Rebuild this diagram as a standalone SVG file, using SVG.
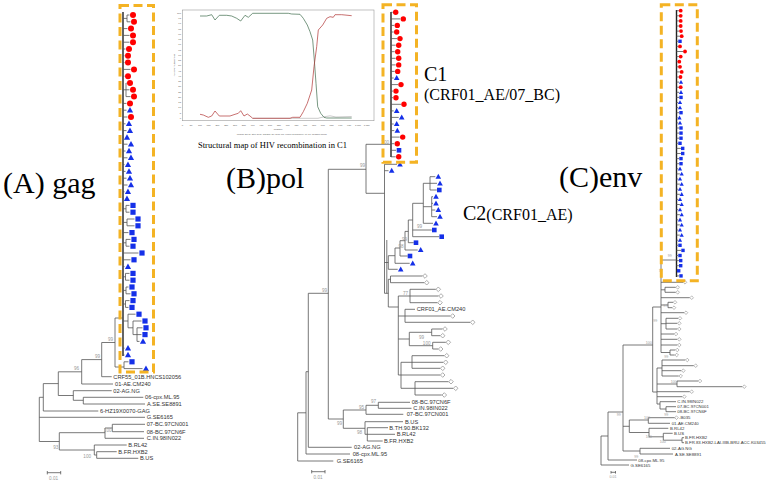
<svg xmlns="http://www.w3.org/2000/svg" width="767" height="482" viewBox="0 0 767 482">
<style>
.br{fill:none;stroke:#555;stroke-width:0.8}
.bb{fill:none;stroke:#222;stroke-width:1.4}
.lb{font-family:"Liberation Sans",Arial,sans-serif;font-size:5.7px;fill:#333}
.lc{font-family:"Liberation Sans",Arial,sans-serif;font-size:4.3px;fill:#333}
.bs{font-family:"Liberation Sans",Arial,sans-serif;font-size:4.6px;fill:#999;text-anchor:end}
.bsc{font-family:"Liberation Sans",Arial,sans-serif;font-size:3.6px;fill:#999;text-anchor:end}
.big{font-family:"Liberation Serif","Times New Roman",serif;fill:#000}
.box{fill:none;stroke:#F4B324;stroke-width:3;stroke-dasharray:9 4.5}
.tk{font-family:"Liberation Sans",Arial,sans-serif;font-size:2.4px;fill:#555}
</style>
<defs>
<circle id="ca" r="3" fill="#f00"/>
<path id="ta" d="M0,-3.2L3.1,2.3L-3.1,2.3Z" fill="#1530e8"/>
<rect id="sa" x="-2.6" y="-2.6" width="5.2" height="5.2" fill="#1530e8"/>
<circle id="cb" r="2.7" fill="#f00"/>
<path id="tb" d="M0,-2.9L2.8,2.1L-2.8,2.1Z" fill="#1530e8"/>
<rect id="sb" x="-2.3" y="-2.3" width="4.6" height="4.6" fill="#1530e8"/>
<path id="db" d="M0,-2.3L2.3,0L0,2.3L-2.3,0Z" fill="#fff" stroke="#777" stroke-width="0.6"/>
<circle id="cc" r="1.9" fill="#f00"/>
<path id="tc" d="M0,-2.2L2.1,1.6L-2.1,1.6Z" fill="#1530e8"/>
<rect id="sc" x="-1.7" y="-1.7" width="3.4" height="3.4" fill="#1530e8"/>
<path id="dc" d="M0,-1.8L1.8,0L0,1.8L-1.8,0Z" fill="#fff" stroke="#777" stroke-width="0.5"/>
</defs>
<rect width="767" height="482" fill="#fff"/>

<!-- Titles -->
<g id="title-a"><text class="big" x="3" y="192.5" font-size="30">(A) gag</text></g>
<g id="title-b"><text class="big" x="226" y="188.3" font-size="30">(B)pol</text></g>
<g id="title-c"><text class="big" x="559" y="186.5" font-size="30">(C)env</text></g>
<g id="label-c1"><text class="big" x="424" y="81" font-size="20">C1</text><text class="big" x="424" y="100" font-size="16">(CRF01_AE/07_BC)</text></g>
<g id="label-c2"><text class="big" x="463" y="220" font-size="20">C2<tspan font-size="16">(CRF01_AE)</tspan></text></g>

<!-- Inset plot -->
<g id="inset">
<rect x="182.5" y="10" width="191.5" height="110.7" fill="#fff" stroke="#999" stroke-width="0.6"/>
<polyline fill="none" stroke="#aaa" stroke-width="0.6" points="252.7,118.3 318,118.3 324,116.8 330,115.8 336,117 351.7,116.5"/>
<polyline fill="none" stroke="#3d6b4c" stroke-width="0.7" points="200,16 206.7,16 211.7,14.7 215,20 219.3,15.3 226.7,15.3 231.7,16 236.7,18.3 240.7,21 245,15.3 248.3,17.3 252.7,13.3 288.3,13.3 291.7,14 300,14.3 303.3,18.3 307.3,25 310,31.7 312.7,40 314.3,60 316,83.3 317.7,106.7 320.7,113.3 324,117.3 326.7,118 351.7,118"/>
<polyline fill="none" stroke="#b03434" stroke-width="0.7" points="200,114.3 203.3,115 208.3,117.3 211.7,116 215,111 219.3,116 230,116 235,114.3 238.3,113.3 240.7,110.7 244,116 247.3,114 250,116 252.7,118.3 290,118.3 292.7,117.3 300,117.3 303.3,111.7 307.3,103.3 311.7,90 314,66.7 316.7,46.7 318.3,30 322.7,25 326.7,18.3 330,16.7 333.3,17.3 335,14.7 341.7,14.7 351.7,15.7"/>
<text class="tk" text-anchor="end"><tspan x="181" y="118.8">0</tspan><tspan x="181" y="113.5">5</tspan><tspan x="181" y="108.3">10</tspan><tspan x="181" y="103">15</tspan><tspan x="181" y="97.8">20</tspan><tspan x="181" y="92.5">25</tspan><tspan x="181" y="87.3">30</tspan><tspan x="181" y="82">35</tspan><tspan x="181" y="76.8">40</tspan><tspan x="181" y="71.5">45</tspan><tspan x="181" y="66.3">50</tspan><tspan x="181" y="61">55</tspan><tspan x="181" y="55.8">60</tspan><tspan x="181" y="50.5">65</tspan><tspan x="181" y="45.3">70</tspan><tspan x="181" y="40">75</tspan><tspan x="181" y="34.8">80</tspan><tspan x="181" y="29.5">85</tspan><tspan x="181" y="24.3">90</tspan><tspan x="181" y="19">95</tspan><tspan x="181" y="13.8">100</tspan></text>
<text class="tk" text-anchor="middle" y="125.5"><tspan x="182.3">0</tspan><tspan x="191.1">50</tspan><tspan x="199.9">100</tspan><tspan x="208.6">150</tspan><tspan x="217.4">200</tspan><tspan x="226.2">250</tspan><tspan x="235">300</tspan><tspan x="243.8">350</tspan><tspan x="252.5">400</tspan><tspan x="261.3">450</tspan><tspan x="270.1">500</tspan><tspan x="278.9">550</tspan><tspan x="287.7">600</tspan><tspan x="296.4">650</tspan><tspan x="305.2">700</tspan><tspan x="314">750</tspan><tspan x="322.8">800</tspan><tspan x="331.6">850</tspan><tspan x="340.3">900</tspan><tspan x="349.1">950</tspan><tspan x="357.9">1,000</tspan><tspan x="366.7">1,050</tspan></text>
<text class="tk" x="278" y="129.5" text-anchor="middle" font-size="2.7">Position</text>
<text class="tk" transform="translate(174.5,65) rotate(-90)" text-anchor="middle" font-size="2.6">% of Permuted Trees</text>
<text class="tk" x="236.7" y="134.6" fill="#c03030" textLength="90" lengthAdjust="spacingAndGlyphs">Window: 200 bp, Step: 20 bp, GapStrip: On, Reps: 100, Kimura (2-parameter), T/t: 2.0, Neighbor-Joining</text>
<text class="big" x="198" y="148.3" font-size="8.6" textLength="149" lengthAdjust="spacingAndGlyphs">Structural map of HIV recombination in C1</text>
</g>

<!-- Tree A -->
<g id="connectors-a">
<path class="bb" d="M123,12V356"/>
<path class="br" d="M123,18.4H127M127,15V21.8M127,15H129.5M127,21.8H130.5M123,28.6H127.5M123,35.4H129.5M123,42.2H129.5M123,49H125.5M123,55.8H124.5M123,62.6H124.5M123,69.4H130.5M123,76.2H124.5M123,89.8H126M126,83V96.6M126,83H126.5M126,89.8H129.5M126,96.6H130.5M123,103.4H126.5M123,110.2H126.5M123,117H127.5M123,123.8H125.5M123,130.6H126.5M123,137.4H123.8M123,144.2H127.5M123,151H125.5M123,157.8H127.5M123,164.6H124.5M123,171.4H125.5M123,178.2H126.5M123,185H127.5M123,191.8H124.5M123,198.6H123.8M123,208.8H126M126,205.4V212.2M126,205.4H129.5M126,212.2H129.5M123,222.4H127M127,219V225.8M127,219H134.5M127,225.8H134.5M123,232.6H128.5M123,242.8H126M126,239.4V246.2M126,239.4H130.5M126,246.2H129.5M123,253H138.5M123,259.8H130.5M123,266.6H124.5M123,276.8H125.5M125.5,273.4V280.2M125.5,273.4H129.5M125.5,280.2H129.5M123,290.4H126M126,287V293.8M126,287H128.5M126,293.8H130.5M123,304H125.5M125.5,300.6V307.4M125.5,300.6H129.5M125.5,307.4H128.5M123,321H128M128,314.2V327.8M128,314.2H135.5M128,327.8H133M133,321V334.6M133,321H141.5M133,334.6H137M137,327.8V341.4M137,327.8H142.5M137,334.6H141.5M137,341.4H139.5M123,348.2H124.5M123,355H124.5M115,318V367M115,318H123M115,367H124M124,361.8V368.6M124,361.8H128.5M124,368.6H142.5M101.7,342.5V376.7M101.7,342.5H115M101.7,376.7H111.7M81.7,359.6V384M81.7,359.6H101.7M81.7,384H113M58.3,371.8V395.5M58.3,371.8H81.7M58.3,395.5H73.3M73.3,390.7V400.3M73.3,390.7H111.7M73.3,400.3H83.3M83.3,397.3V404M83.3,397.3H143.3M83.3,404H145M43.3,383.6V411M43.3,383.6H58.3M43.3,411H98.3M39.3,397.3V441.5M39.3,397.3H43.3M39.3,417.3H145M39.3,441.5H59.3M59.3,432.7V450M59.3,432.7H105M59.3,450H94.3M105,428V438.3M105,428H112.3M105,438.3H144M112.3,424.3V431.7M112.3,424.3H145M112.3,431.7H144M94.3,445V455M94.3,445H126.7M94.3,455H96.7M96.7,451.7V458.3M96.7,451.7H116.7M96.7,458.3H138.3"/>
<path class="br" d="M47.3,472.7H60.7M47.3,471V474.4M60.7,471V474.4"/>
</g>
<g id="leaves-a">
<use href="#ca" x="133" y="15"/><use href="#ca" x="134" y="21.8"/><use href="#ca" x="131" y="28.6"/><use href="#ca" x="133" y="35.4"/><use href="#ca" x="133" y="42.2"/><use href="#ca" x="129" y="49"/><use href="#ca" x="128" y="55.8"/><use href="#ca" x="128" y="62.6"/><use href="#ca" x="134" y="69.4"/><use href="#ca" x="128" y="76.2"/><use href="#ca" x="130" y="83"/><use href="#ca" x="133" y="89.8"/><use href="#ca" x="134" y="96.6"/><use href="#ca" x="130" y="103.4"/><use href="#ca" x="131" y="117"/>
<use href="#ta" x="130" y="110.2"/><use href="#ta" x="129" y="123.8"/><use href="#ta" x="130" y="130.6"/><use href="#ta" x="127" y="137.4"/><use href="#ta" x="131" y="144.2"/><use href="#ta" x="129" y="151"/><use href="#ta" x="131" y="157.8"/><use href="#ta" x="128" y="164.6"/><use href="#ta" x="129" y="171.4"/><use href="#ta" x="130" y="178.2"/><use href="#ta" x="131" y="185"/><use href="#ta" x="128" y="191.8"/><use href="#ta" x="127" y="198.6"/><use href="#ta" x="128" y="266.6"/><use href="#ta" x="143" y="341.4"/><use href="#ta" x="128" y="348.2"/><use href="#ta" x="128" y="355"/><use href="#ta" x="146" y="368.6"/>
<use href="#sa" x="133" y="205.4"/><use href="#sa" x="133" y="212.2"/><use href="#sa" x="138" y="219"/><use href="#sa" x="138" y="225.8"/><use href="#sa" x="132" y="232.6"/><use href="#sa" x="134" y="239.4"/><use href="#sa" x="133" y="246.2"/><use href="#sa" x="142" y="253"/><use href="#sa" x="134" y="259.8"/><use href="#sa" x="133" y="273.4"/><use href="#sa" x="133" y="280.2"/><use href="#sa" x="132" y="287"/><use href="#sa" x="134" y="293.8"/><use href="#sa" x="133" y="300.6"/><use href="#sa" x="132" y="307.4"/><use href="#sa" x="139" y="314.2"/><use href="#sa" x="145" y="321"/><use href="#sa" x="146" y="327.8"/><use href="#sa" x="145" y="334.6"/><use href="#sa" x="132" y="361.8"/>
</g>
<g id="taxa-a" class="lb">
<text x="113.3" y="379">CRF55_01B.HNCS102056</text>
<text x="115" y="386">01-AE.CM240</text>
<text x="113.3" y="392.7">02-AG.NG</text>
<text x="145" y="399.3">06-cpx.ML.95</text>
<text x="147" y="406">A.SE.SE8891</text>
<text x="100" y="413">6-HZ19X0070-GAG</text>
<text x="146.7" y="419.3">G.SE6165</text>
<text x="146.7" y="426.3">07-BC.97CN001</text>
<text x="146.7" y="433.7">08-BC.97CN6F</text>
<text x="146.7" y="440.3">C.IN.98IN022</text>
<text x="128.3" y="447">B.RL42</text>
<text x="118.3" y="453.7">B.FR.HXB2</text>
<text x="140" y="460.3">B.US</text>
</g>
<g id="support-a" class="bs">
<text x="113" y="340.5">99</text><text x="100" y="358">99</text><text x="79" y="370">96</text><text x="111.5" y="432">100</text><text x="58.3" y="449">93</text><text x="91" y="457.5">100</text>
</g>
<g id="scale-a"><text class="bs" x="58" y="480" style="font-size:4.6px">0.01</text></g>

<!-- Tree B -->
<g id="connectors-b">
<path class="bb" d="M391,12V157"/>
<path class="br" d="M391,12.3H392.7M391,18.9H400.3M391,25.4H394.3M391,32H393.7M391,38.6H397M391,45.2H395.7M391,51.7H394.7M391,58.3H395.7M391,64.9H395.7M391,71.4H394.7M391,78H393.7M391,84.6H398M391,91.1H393M391,97.7H393M391,104.3H401M391,110.9H393.7M391,117.4H398.7M391,124H393.7M391,130.6H394.3M391,137.1H399.7M391,143.7H394.3M391,150.3H396M391,156.8H395.7"/>
<path class="br" d="M366,144.3H391M366,144.3V193.3M328.3,169.3H366M366,193.3H384.5M384.5,164.3H397M384.5,170.7H388.5M384.5,262.5H388.3M388.3,255.7V269.3M388.3,269.3H397.7M388.3,255.7H395M395,248V263.3M395,263.3H409.7M395,248H400M400,240.7V256M400,256H407.7M400,240.7H405M405,231.4V250M405,250H417.7M405,231.4H408.3M408.3,220V242.7M408.3,242.7H413.7M408.3,220H412.7M412.7,203.3V236.7M412.7,230H431.8M412.7,236.7H439.2M412.7,203.3H423.3M423.3,183.3V223.3M423.3,183.3H430M430,176.7V190M430,176.7H435.3M430,183.3H437M430,190H436.8M423.3,206.7H431.7M431.7,196.7V216.7M431.7,196.7H433M431.7,203.3H433M431.7,210H435.3M431.7,216.7H437M423.3,223.3H433"/>
<path class="br" stroke-width="1.1" d="M384.5,164.3V293.3M386.8,240V293.3"/>
<path class="br" d="M384.5,293.3H388.3M388.3,279.3V307M388.3,279.3H390.5M390.5,276V282.7M390.5,276H422.5M390.5,282.7H424.2M388.3,307H398.3M398.3,296V375M398.3,296H410M410,289.3V302.7M410,289.3H435.8M410,296H438.5M410,302.7H437.5M398.3,316H405M405,309.3V322.3M405,309.3H415M405,316H450.2M405,322.3H470.2M398.3,339H409.3M409.3,332.3V345.7M409.3,332.3H431.7M431.7,329V335.7M431.7,329H442.5M431.7,335.7H440.2M409.3,345.7H432.7M432.7,342.3V349M432.7,342.3H445.8M432.7,349H438.2M398.3,375H401M401,362.3V388.3M401,362.3H412M412,355.7V368.3M412,355.7H444.2M412,362.3H443.2M412,368.3H440.2M401,375H440.2M401,388.3H415M415,381.7V395M415,381.7H448.5M415,388.3H453.2M415,395H441.8"/>
<path class="br" d="M328.3,169.3V419M308.3,293.3H328.3M308.3,293.3V447.3M306,371.7H308.3M306,371.7V454M297.7,412.8H306M297.7,412.8V461M297.7,461H333.3M306,454H350M308.3,447.3H351.7M328.3,419H343.3M343.3,410V428.3M343.3,410H366M366,405.3V414.3M366,405.3H378.3M378.3,402.3V408.3M378.3,402.3H410M378.3,408.3H411.5M366,414.3H403.3M343.3,428.3H365M365,421.7V434.3M365,421.7H403M365,434.3H367.3M367.3,427.7V441M367.3,427.7H388M367.3,434.3H395M367.3,441H382.7"/>
<path class="br" d="M311.7,471.7H325M311.7,470V473.4M325,470V473.4"/>
</g>
<g id="leaves-b">
<use href="#cb" x="395.7" y="12.3"/><use href="#cb" x="403.3" y="18.9"/><use href="#cb" x="397.3" y="25.4"/><use href="#cb" x="396.7" y="32"/><use href="#cb" x="400" y="38.6"/><use href="#cb" x="398.7" y="45.2"/><use href="#cb" x="397.7" y="51.7"/><use href="#cb" x="398.7" y="58.3"/><use href="#cb" x="398.7" y="64.9"/><use href="#cb" x="397.7" y="71.4"/><use href="#cb" x="401" y="84.6"/><use href="#cb" x="396" y="91.1"/><use href="#cb" x="396" y="97.7"/><use href="#cb" x="404" y="104.3"/><use href="#cb" x="402.7" y="137.1"/><use href="#cb" x="397.3" y="143.7"/><use href="#cb" x="398.7" y="156.8"/>
<use href="#tb" x="396.7" y="78"/><use href="#tb" x="396.7" y="110.9"/><use href="#tb" x="401.7" y="117.4"/><use href="#tb" x="396.7" y="124"/><use href="#tb" x="397.3" y="130.6"/><use href="#tb" x="400" y="164.3"/><use href="#tb" x="391.7" y="170.7"/><use href="#tb" x="438.3" y="176.7"/><use href="#tb" x="440" y="183.3"/><use href="#tb" x="436" y="196.7"/><use href="#tb" x="436" y="203.3"/><use href="#tb" x="438.3" y="210"/><use href="#tb" x="440" y="216.7"/><use href="#tb" x="436" y="223.3"/><use href="#tb" x="420.7" y="250"/><use href="#tb" x="412.7" y="263.3"/><use href="#tb" x="400.7" y="269.3"/>
<use href="#sb" x="399" y="150.3"/><use href="#sb" x="439.3" y="190"/><use href="#sb" x="434.3" y="230"/><use href="#sb" x="441.7" y="236.7"/><use href="#sb" x="416" y="242.7"/><use href="#sb" x="410" y="256"/>
<use href="#db" x="425" y="276"/><use href="#db" x="426.7" y="282.7"/><use href="#db" x="438.3" y="289.3"/><use href="#db" x="441" y="296"/><use href="#db" x="440" y="302.7"/><use href="#db" x="452.7" y="316"/><use href="#db" x="472.7" y="322.3"/><use href="#db" x="445" y="329"/><use href="#db" x="442.7" y="335.7"/><use href="#db" x="448.3" y="342.3"/><use href="#db" x="440.7" y="349"/><use href="#db" x="446.7" y="355.7"/><use href="#db" x="445.7" y="362.3"/><use href="#db" x="442.7" y="368.3"/><use href="#db" x="442.7" y="375"/><use href="#db" x="451" y="381.7"/><use href="#db" x="455.7" y="388.3"/><use href="#db" x="444.3" y="395"/>
</g>
<g id="taxa-b" class="lb">
<text x="416.7" y="311.3">CRF01_AE.CM240</text>
<text x="411.7" y="404.3">08-BC.97CN6F</text>
<text x="413.3" y="410.3">C.IN.98IN022</text>
<text x="406.7" y="416.3">07-BC.97CN001</text>
<text x="405" y="423.7">B.US</text>
<text x="389.3" y="429.7">B.TH.90.BK132</text>
<text x="396.7" y="436.3">B.RL42</text>
<text x="384" y="443">B.FR.HXB2</text>
<text x="354" y="449.3">02-AG.NG</text>
<text x="352.7" y="456">08-cpx.ML.95</text>
<text x="336.7" y="463">G.SE6165</text>
</g>
<g id="support-b" class="bs">
<text x="389" y="143.5">100</text><text x="365" y="167">99</text><text x="327" y="291.5">99</text><text x="422" y="227.5">99</text><text x="407" y="241">99</text><text x="403.5" y="248">98</text><text x="408" y="295">77</text><text x="424" y="339">99</text><text x="430.5" y="344.5">100</text><text x="376" y="403">97</text><text x="364" y="408.5">95</text><text x="342" y="425">99</text><text x="362" y="433.5">98</text>
</g>
<g id="scale-b"><text class="bs" x="322.5" y="478.5">0.01</text></g>

<!-- Tree C -->
<g id="connectors-c">
<path class="bb" d="M676.5,10V277"/>
<path class="br" d="M676.5,10.7H678.9M676.5,15.8H678.9M676.5,20.9H678.9M676.5,26H678.9M676.5,31.1H679.2M676.5,36.2H679.9M676.5,41.3H678.2M676.5,46.4H678.2M676.5,51.5H683.2M676.5,56.6H678.9M676.5,61.7H677.5M676.5,66.8H678.2M676.5,71.9H679.9M676.5,77H678.7M676.5,82.1H679.2M676.5,87.2H678.9M676.5,92.3H679.2M676.5,97.4H679.2M676.5,102.5H678.2M676.5,107.6H678.2M676.5,112.7H679.2M676.5,117.8H677.7M676.5,122.9H678.2M676.5,128H679.2M676.5,133.1H679.2M676.5,138.2H679.2M676.5,143.3H678.2M676.5,148.4H680.9M676.5,153.5H680.9M676.5,158.6H679.2M676.5,163.7H679.2M676.5,168.8H678.2M676.5,173.9H679.9M676.5,179H678.2M676.5,184.1H679.9M676.5,189.2H678.2M676.5,194.3H679.9M676.5,199.4H678.2M676.5,204.5H679.9M676.5,209.6H678.2M676.5,214.7H679.9M676.5,219.8H678.2M676.5,224.9H679.9M676.5,230H678.2M676.5,235.1H679.9M676.5,240.2H678.2M676.5,245.3H678.2M676.5,250.4H681.2M676.5,255.5H678.2M676.5,260.6H678.9M676.5,265.7H678.9M676.5,270.8H676.9M676.5,275.9H679.2"/>
<path class="br" d="M661,260H676.5M661,260V352.5M661,282.3H683M661,289.8H665M665,287.3V292.3M665,287.3H675.7M665,292.3H675.7M661,297.7H689.7M661,305H668M668,302.3V307.7M668,302.3H673M668,307.7H672M661,312.7H684M661,323.7H666M666,318.3V329M666,318.3H678M666,323.3H677.3M666,329H677.3M661,334H674M661,339.3H677.3M661,345H677.3M661,352.5H670M670,350V355M670,350H675.3M670,355H674.7M652.7,307V392M652.7,307H661M652.7,392H657M657,368V404M657,368H662M662,360V376M662,360H685.3M662,365.7H693.7M662,370.7H681.3M662,376H678.7M657,384H677M677,381V386.7M677,381H698M677,386.7H742.3M657,391.7H689.7M657,396.7H682.3M657,404H660M660,401.7V409M660,401.7H676M660,409H666M666,406.7V411.7M666,406.7H676M666,411.7H676M601,436V465M601,465H629M601,436H608M608,412V460M608,460H637M608,412H623M623,345V451M623,345H652.7M623,451H640M640,448.3V454M640,448.3H670M640,454H673M623,426.3H629.3M629.3,420V432.5M629.3,420H648.3M648.3,417.7V423.3M648.3,417.7H674.7M648.3,423.3H670M629.3,432.5H649M649,428.3V436.8M649,428.3H668.3M649,436.8H663.3M663.3,433.3V440.2M663.3,433.3H672.7M663.3,440.2H682M682,437.7V442.7M682,437.7H684M682,442.7H684"/>
<path class="br" d="M611,472.3H615.5M611,471V473.6M615.5,471V473.6"/>
</g>
<g id="leaves-c">
<use href="#cc" x="680.7" y="10.7"/><use href="#cc" x="680.7" y="15.8"/><use href="#cc" x="680.7" y="20.9"/><use href="#cc" x="680.7" y="26"/><use href="#cc" x="681" y="31.1"/><use href="#cc" x="681.7" y="36.2"/><use href="#cc" x="680" y="46.4"/><use href="#cc" x="685" y="51.5"/><use href="#cc" x="680.7" y="56.6"/><use href="#cc" x="679.3" y="61.7"/><use href="#cc" x="680" y="66.8"/><use href="#cc" x="681.7" y="71.9"/><use href="#cc" x="680.5" y="77"/><use href="#cc" x="680.7" y="87.2"/>
<use href="#sc" x="680" y="41.3"/><use href="#sc" x="681" y="97.4"/><use href="#sc" x="681" y="112.7"/><use href="#sc" x="681" y="128"/><use href="#sc" x="681" y="133.1"/><use href="#sc" x="681" y="138.2"/><use href="#sc" x="680" y="143.3"/><use href="#sc" x="682.7" y="148.4"/><use href="#sc" x="682.7" y="153.5"/><use href="#sc" x="681" y="158.6"/><use href="#sc" x="681" y="163.7"/><use href="#sc" x="680" y="245.3"/><use href="#sc" x="683" y="250.4"/><use href="#sc" x="680" y="255.5"/><use href="#sc" x="680.7" y="260.6"/><use href="#sc" x="680.7" y="265.7"/><use href="#sc" x="678.7" y="270.8"/><use href="#sc" x="681" y="275.9"/>
<use href="#tc" x="681" y="82.1"/><use href="#tc" x="681" y="92.3"/><use href="#tc" x="680" y="102.5"/><use href="#tc" x="680" y="107.6"/><use href="#tc" x="679.5" y="117.8"/><use href="#tc" x="680" y="122.9"/><use href="#tc" x="680" y="168.8"/><use href="#tc" x="681.7" y="173.9"/><use href="#tc" x="680" y="179"/><use href="#tc" x="681.7" y="184.1"/><use href="#tc" x="680" y="189.2"/><use href="#tc" x="681.7" y="194.3"/><use href="#tc" x="680" y="199.4"/><use href="#tc" x="681.7" y="204.5"/><use href="#tc" x="680" y="209.6"/><use href="#tc" x="681.7" y="214.7"/><use href="#tc" x="680" y="219.8"/><use href="#tc" x="681.7" y="224.9"/><use href="#tc" x="680" y="230"/><use href="#tc" x="681.7" y="235.1"/><use href="#tc" x="680" y="240.2"/>
<use href="#dc" x="685" y="282.3"/><use href="#dc" x="677.7" y="287.3"/><use href="#dc" x="677.7" y="292.3"/><use href="#dc" x="691.7" y="297.7"/><use href="#dc" x="675" y="302.3"/><use href="#dc" x="674" y="307.7"/><use href="#dc" x="686" y="312.7"/><use href="#dc" x="680" y="318.3"/><use href="#dc" x="679.3" y="323.3"/><use href="#dc" x="679.3" y="329"/><use href="#dc" x="676" y="334"/><use href="#dc" x="679.3" y="339.3"/><use href="#dc" x="679.3" y="345"/><use href="#dc" x="677.3" y="350"/><use href="#dc" x="676.7" y="355"/><use href="#dc" x="687.3" y="360"/><use href="#dc" x="695.7" y="365.7"/><use href="#dc" x="683.3" y="370.7"/><use href="#dc" x="680.7" y="376"/><use href="#dc" x="700" y="381"/><use href="#dc" x="744.3" y="386.7"/><use href="#dc" x="691.7" y="391.7"/><use href="#dc" x="684.3" y="396.7"/><use href="#dc" x="676.5" y="417.7"/>
</g>
<g id="taxa-c" class="lc">
<text x="677.3" y="403.2">C.IN.98IN022</text>
<text x="677.3" y="408.2">07-BC.97CN001</text>
<text x="677.3" y="413.2">08-BC.97CN6F</text>
<text x="679" y="419.2">-B035</text>
<text x="671.7" y="424.8">01-AE.CM240</text>
<text x="670" y="429.8">B.RL42</text>
<text x="674" y="434.8">B.US</text>
<text x="685" y="439.2">B.FR.HXB2</text>
<text x="685" y="444.2">B.FR.83.HXB2-LAI-IIIB-BRU.ACC.K03455</text>
<text x="671.7" y="449.8">02-AG.NG</text>
<text x="675" y="455.5">A.SE.SE8891</text>
<text x="638.3" y="461.5">08-cpx.ML.95</text>
<text x="630.5" y="466.5">G.SE6165</text>
</g>
<g id="support-c" class="bsc">
<text x="671.7" y="257.3">99</text><text x="662.7" y="272">77</text><text x="667.3" y="307">97</text><text x="657.3" y="322">99</text><text x="651.7" y="344">100</text><text x="668.3" y="358">99</text><text x="676.7" y="383">100</text><text x="668.3" y="415.5">99</text><text x="620.7" y="416">99</text><text x="650" y="418.8">100</text><text x="651.7" y="437.5">100</text><text x="665.7" y="443">100</text><text x="638.3" y="458">99</text>
</g>
<g id="scale-c"><text class="bsc" x="616.5" y="478">0.01</text></g>

<!-- Highlight boxes -->
<g id="box-a"><rect class="box" x="120" y="5.5" width="33.5" height="366.5"/></g>
<g id="box-b"><rect class="box" x="383" y="4.7" width="33.5" height="157.6"/></g>
<g id="box-c"><rect class="box" x="661.3" y="4.7" width="36" height="276"/></g>
</svg>
